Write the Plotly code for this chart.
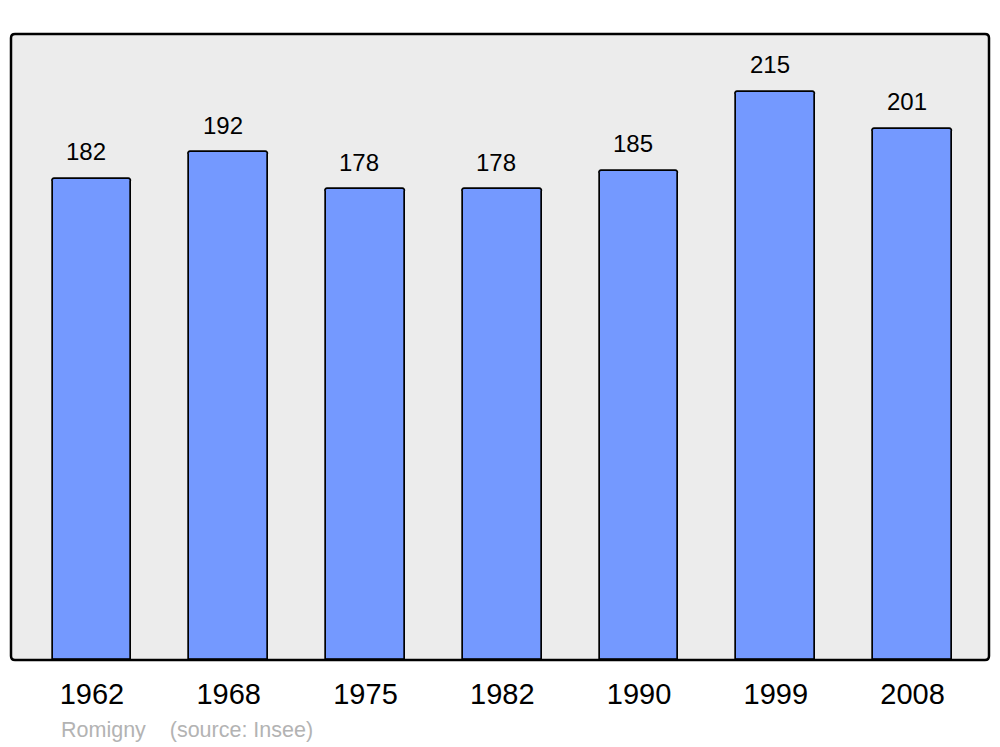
import plotly.graph_objects as go

years = ["1962", "1968", "1975", "1982", "1990", "1999", "2008"]
population = [182, 192, 178, 178, 185, 215, 201]
source_label = "Romigny    (source: Insee)"

# page body has an 8px margin; compensate so the plot lands where the reference has it
W, H = 992, 739
ml, mr, mt, mb = 3, 11, 26, 87
pw, ph = W - ml - mr, H - mt - mb

fig = go.Figure()
fig.add_trace(go.Bar(
    x=list(range(len(years))), y=population,
    width=0.575,
    marker=dict(color="#7499ff", line=dict(color="black", width=1.7), cornerradius=3),
    hoverinfo="skip",
))

for i, v in enumerate(population):
    fig.add_annotation(x=i, y=v, text=str(v), showarrow=False,
                       xanchor="center", yanchor="middle", xshift=-6, yshift=27,
                       font=dict(family="Liberation Sans, Arial", size=24, color="black"))

fig.add_annotation(xref="paper", yref="paper", x=(59 - 11) / pw, y=0,
                   yshift=-70, xanchor="left", yanchor="middle", showarrow=False,
                   text=source_label,
                   font=dict(family="Liberation Sans, Arial", size=21.5, color="#b3b3b3"))

# rounded plot border
r = 4
rx, ry = r / pw, r / ph
path = (f"M {rx} 0 L {1-rx} 0 Q 1 0 1 {ry} L 1 {1-ry} Q 1 1 {1-rx} 1 "
        f"L {rx} 1 Q 0 1 0 {1-ry} L 0 {ry} Q 0 0 {rx} 0 Z")
fig.add_shape(type="path", xref="paper", yref="paper", path=path,
              line=dict(color="black", width=2.5), layer="above")

fig.update_layout(
    width=W, height=H,
    margin=dict(l=ml, r=mr, t=mt, b=mb),
    paper_bgcolor="white", plot_bgcolor="#ececec",
    showlegend=False,
    bargap=0,
    xaxis=dict(range=[-0.592, 6.559], tickmode="array",
               tickvals=list(range(len(years))), ticktext=years,
               tickfont=dict(family="Liberation Sans, Arial", size=29, color="black"),
               showgrid=False, zeroline=False, ticks="", ticklabelstandoff=14),
    yaxis=dict(range=[0, 236.8], showgrid=False, zeroline=False, showticklabels=False),
)

fig.write_html("out.html")
